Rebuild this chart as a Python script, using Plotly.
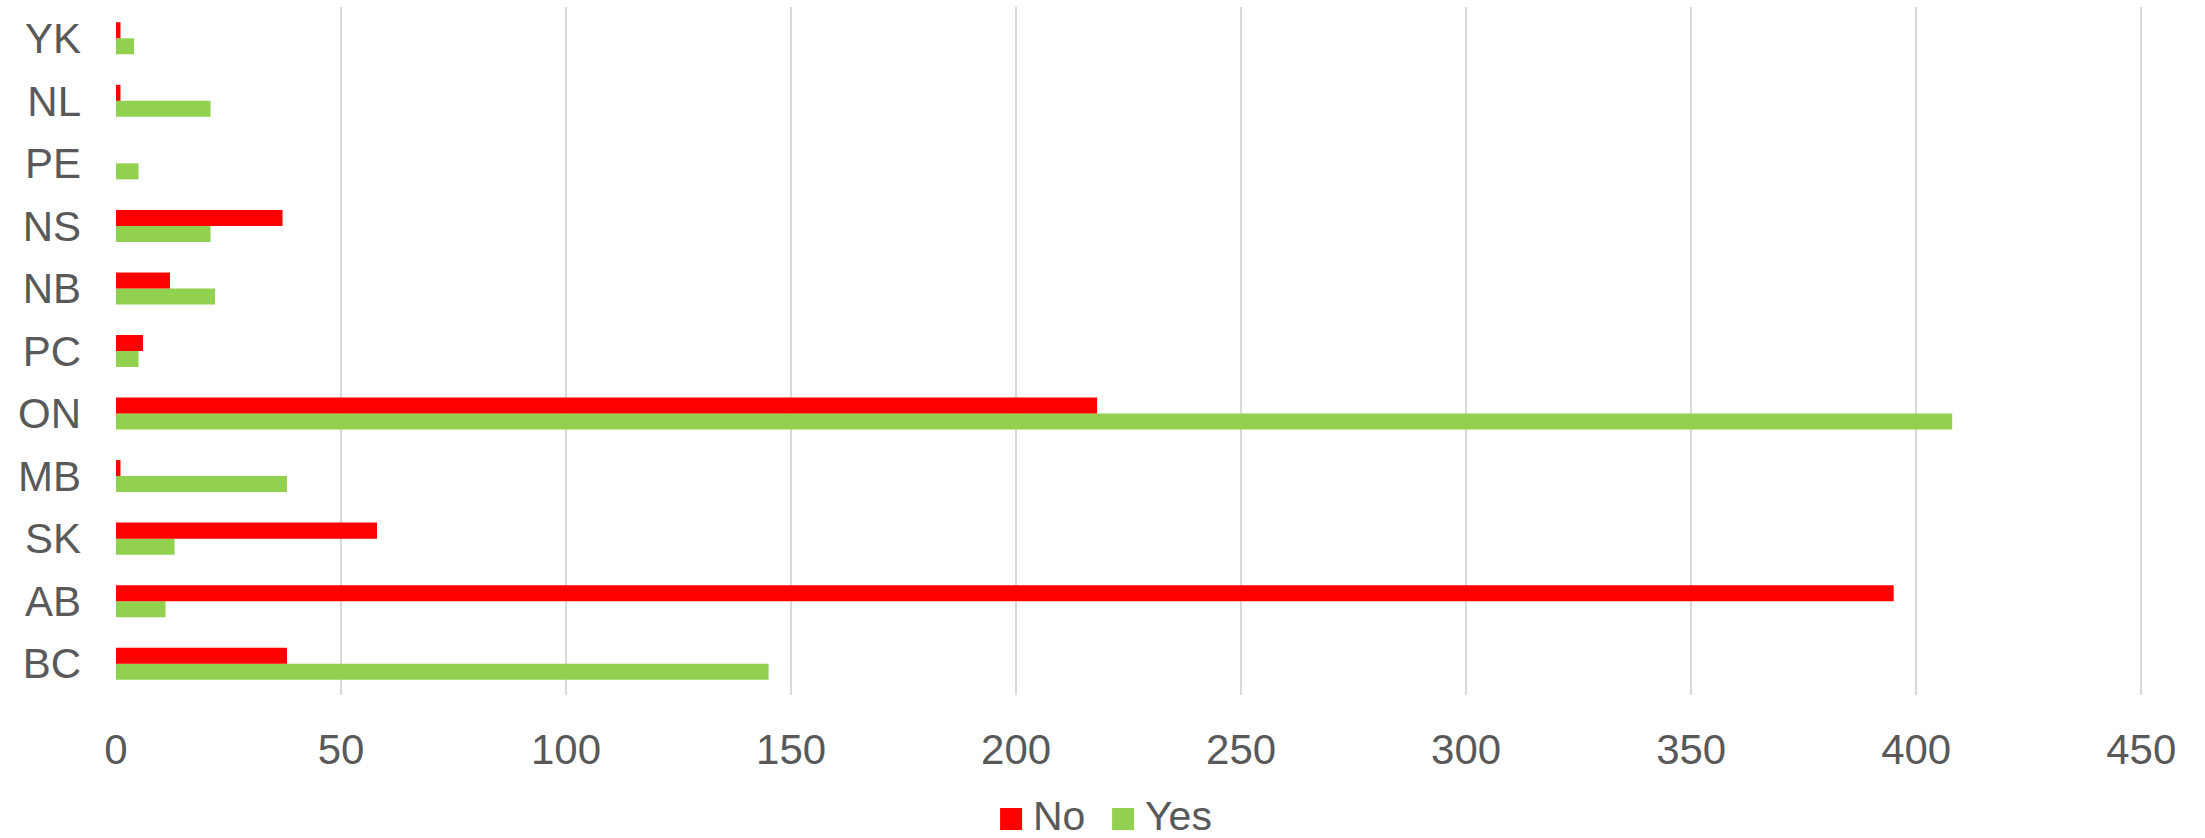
import plotly.graph_objects as go

categories = ["BC", "AB", "SK", "MB", "ON", "PC", "NB", "NS", "PE", "NL", "YK"]
no_values = [38, 395, 58, 1, 218, 6, 12, 37, 0, 1, 1]
yes_values = [145, 11, 13, 38, 408, 5, 22, 21, 5, 21, 4]
series_names = ["No", "Yes"]
x_ticks = [0, 50, 100, 150, 200, 250, 300, 350, 400, 450]

RED = "#FF0000"
GREEN = "#92D050"
TXT = "#595959"
FONT = "Liberation Sans, Arial, sans-serif"

W, H = 2205, 838
X_MAX = 450.4
ML, MT, MB = 116, 7, 143
PW = 4.5 * X_MAX          # 4.5 px per unit, so 450 lands at x=2141
MR = W - ML - PW
PH = H - MT - MB

def px_x(p):
    return (p - ML) / PW

def px_y(p):
    return (H - MB - p) / PH

fig = go.Figure()
fig.add_trace(go.Bar(y=categories, x=yes_values, orientation="h", name=series_names[1],
                     marker=dict(color=GREEN, line=dict(width=0)), showlegend=False))
fig.add_trace(go.Bar(y=categories, x=no_values, orientation="h", name=series_names[0],
                     marker=dict(color=RED, line=dict(width=0)), showlegend=False))

# manual legend (square swatches + labels)
legend_items = [(series_names[0], RED, 1000), (series_names[1], GREEN, 1112)]
shapes, annotations = [], []
for name, col, x0 in legend_items:
    shapes.append(dict(type="rect", xref="paper", yref="paper",
                       x0=px_x(x0), x1=px_x(x0 + 22), y0=px_y(830), y1=px_y(808),
                       fillcolor=col, line=dict(width=0)))
    annotations.append(dict(text=name, xref="paper", yref="paper", x=px_x(x0 + 32),
                            y=px_y(815.5), xanchor="left", yanchor="middle", showarrow=False,
                            borderpad=0, font=dict(family=FONT, size=41, color=TXT)))

fig.update_layout(
    width=W, height=H,
    margin=dict(l=ML, r=MR, t=MT, b=MB),
    paper_bgcolor="white", plot_bgcolor="white",
    barmode="group", bargap=0.488, bargroupgap=0,
    font=dict(family=FONT, size=42, color=TXT),
    showlegend=False,
    shapes=shapes, annotations=annotations,
    xaxis=dict(range=[0, X_MAX], tickvals=x_ticks, showgrid=True, gridcolor="#D9D9D9",
               gridwidth=2, zeroline=False, showline=False, ticks="", automargin=False,
               ticklabelstandoff=26, tickfont=dict(family=FONT, size=42, color=TXT)),
    yaxis=dict(type="category", categoryorder="array", categoryarray=categories,
               showgrid=False, zeroline=False, showline=False, ticks="", automargin=False,
               ticklabelstandoff=34, tickfont=dict(family=FONT, size=42, color=TXT)),
)

fig.write_html("out.html", config={"displayModeBar": False},
               post_script="document.body.style.margin='0';document.body.style.overflow='hidden';")
